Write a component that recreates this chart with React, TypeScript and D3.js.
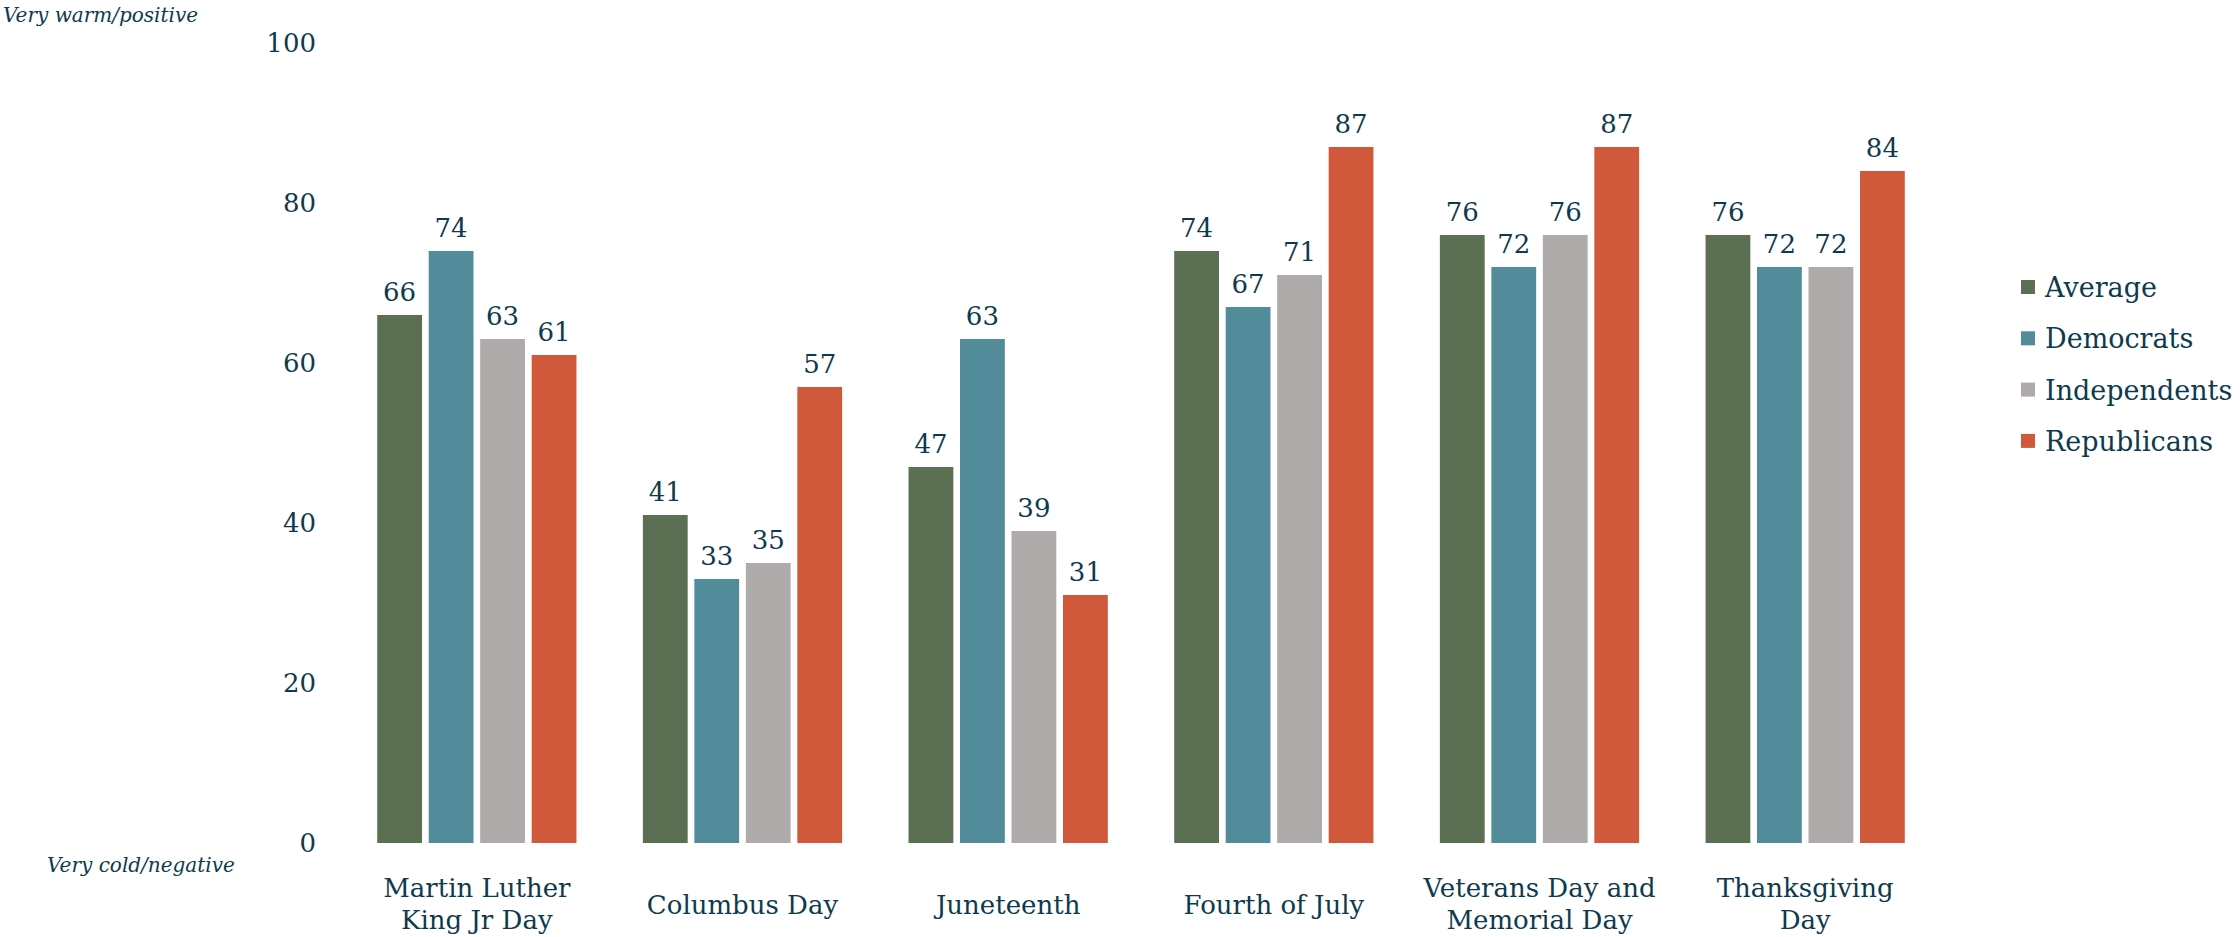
import { scaleBand, scaleLinear } from "d3";

const categories = [
  ["Martin Luther", "King Jr Day"],
  ["Columbus Day"],
  ["Juneteenth"],
  ["Fourth of July"],
  ["Veterans Day and", "Memorial Day"],
  ["Thanksgiving", "Day"],
];
const seriesNames = ["Average", "Democrats", "Independents", "Republicans"];
const average = [66, 41, 47, 74, 76, 76];
const democrats = [74, 33, 63, 67, 72, 72];
const independents = [63, 35, 39, 71, 76, 72];
const republicans = [61, 57, 31, 87, 87, 84];
const yTicks = [0, 20, 40, 60, 80, 100];

const colors = ["#5b6f52", "#528b99", "#afabaa", "#d0593c"];
const TEXT = "#0e3a4e";
const FONT = "'DejaVu Serif', serif";

export default function App() {
  const W = 2240,
    H = 937;
  const series = [average, democrats, independents, republicans];
  const x = scaleBand<number>()
    .domain(categories.map((_c, i) => i))
    .range([344, 1938])
    .paddingInner(0.25)
    .paddingOuter(0.125);
  const xi = scaleBand<number>()
    .domain(seriesNames.map((_s, i) => i))
    .range([0, x.bandwidth()])
    .paddingInner(0.13);
  const y = scaleLinear().domain([0, 100]).range([843, 43]);

  return (
    <>
      <style>{"body{margin:0}"}</style>
      <svg width={W} height={H} style={{ display: "block", fontFamily: FONT }}>
        <rect width={W} height={H} fill="#fff" />
        <text x={3} y={22} fontSize={20} fontStyle="italic" fill={TEXT}>
          Very warm/positive
        </text>
        <text x={47} y={872} fontSize={20} fontStyle="italic" fill={TEXT}>
          Very cold/negative
        </text>
        {yTicks.map((t) => (
          <text key={t} x={316} y={y(t)} dy="0.36em" textAnchor="end" fontSize={26} fill={TEXT}>
            {t}
          </text>
        ))}
        {categories.map((lines, ci) => (
          <g key={ci} transform={`translate(${x(ci)},0)`}>
            {series.map((vals, si) => {
              const bx = xi(si)!;
              const v = vals[ci];
              return (
                <g key={si}>
                  <rect x={bx} y={y(v)} width={xi.bandwidth()} height={y(0) - y(v)} fill={colors[si]} />
                  <text
                    x={bx + xi.bandwidth() / 2}
                    y={y(v) - 14}
                    textAnchor="middle"
                    fontSize={26}
                    fill={TEXT}
                  >
                    {v}
                  </text>
                </g>
              );
            })}
            {lines.map((ln, li) => (
              <text
                key={li}
                x={x.bandwidth() / 2}
                y={(lines.length === 1 ? 914 : 897) + li * 32}
                textAnchor="middle"
                fontSize={26}
                fill={TEXT}
              >
                {ln}
              </text>
            ))}
          </g>
        ))}
        {seriesNames.map((name, si) => {
          const cy = 287 + si * 51.3;
          return (
            <g key={name}>
              <rect x={2021} y={cy - 7} width={14} height={14} fill={colors[si]} />
              <text x={2045} y={cy + 10} fontSize={27} fill={TEXT}>
                {name}
              </text>
            </g>
          );
        })}
      </svg>
    </>
  );
}
